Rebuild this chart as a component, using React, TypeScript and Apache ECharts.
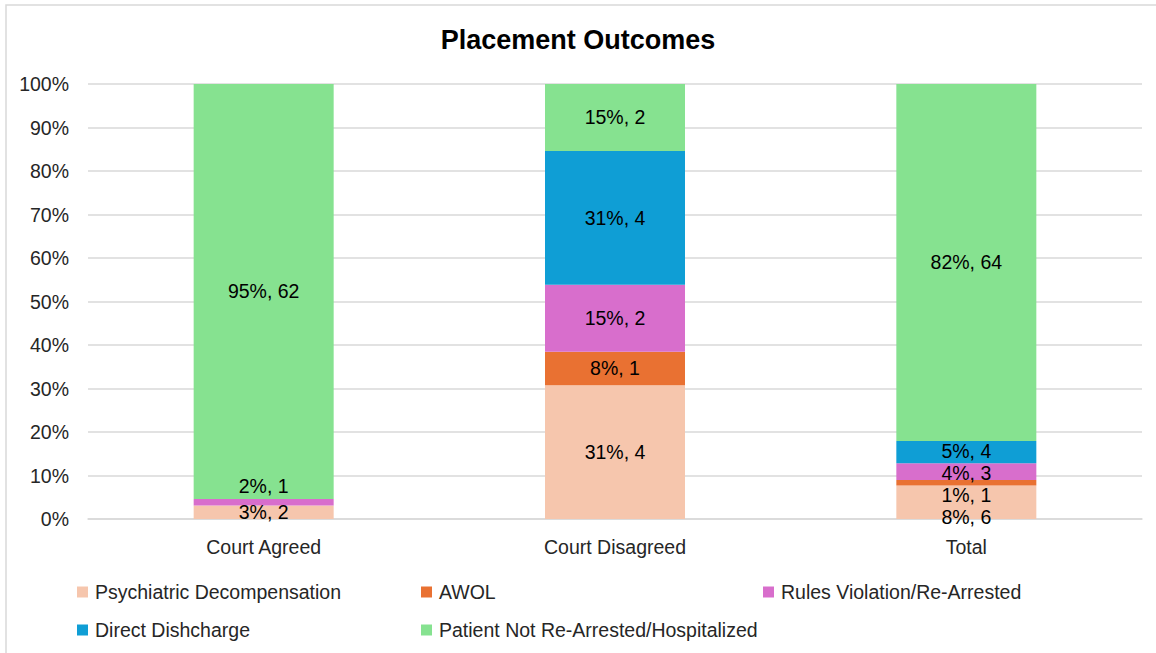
import React, { useEffect, useRef } from "react";
import * as echarts from "echarts";

const categories = ["Court Agreed", "Court Disagreed", "Total"];
const seriesNames = [
  "Psychiatric Decompensation",
  "AWOL",
  "Rules Violation/Re-Arrested",
  "Direct Dishcharge",
  "Patient Not Re-Arrested/Hospitalized",
];
const psychCounts = [2, 4, 6];
const awolCounts = [0, 1, 1];
const rulesCounts = [1, 2, 3];
const directCounts = [0, 4, 4];
const notArrestedCounts = [62, 2, 64];
const colors = ["#F6C6AD", "#E97132", "#D86ECC", "#0F9ED5", "#86E290"];
// label vertical nudges (style only), per series per category
const labelNudges = [
  [0, 0, 15],
  [0, 0, 12],
  [-16, 0, 1],
  [0, 0, -1],
  [0, 0, 0],
];

const FONT = "'Liberation Sans', Arial, sans-serif";
const FS = 19.5;

export default function App() {
  const ref = useRef<HTMLDivElement>(null);
  useEffect(() => {
    if (!ref.current) return;
    const chart = echarts.init(ref.current, undefined, { renderer: "svg" });
    const all = [psychCounts, awolCounts, rulesCounts, directCounts, notArrestedCounts];
    const totals = categories.map((_, i) => all.reduce((s, a) => s + a[i], 0));
    const series = all.map((counts, si) => ({
      name: seriesNames[si],
      type: "bar",
      stack: "total",
      barWidth: 140,
      itemStyle: { color: colors[si] },
      data: counts.map((c, ci) => ({
        value: c / totals[ci],
        count: c,
        label: {
          show: c > 0,
          offset: [0, labelNudges[si][ci]],
        },
      })),
      label: {
        position: "inside",
        color: "#000",
        fontSize: FS,
        lineHeight: 18,
        fontFamily: FONT,
        formatter: (p: any) => `${Math.round(p.value * 100)}%, ${p.data.count}`,
      },
    }));
    const legendPos = [
      { left: 77, top: 581 },
      { left: 421, top: 581 },
      { left: 763, top: 581 },
      { left: 77, top: 619 },
      { left: 421, top: 619 },
    ];
    const legends = seriesNames.map((n, i) => ({
      data: [n],
      left: legendPos[i].left,
      top: legendPos[i].top,
      padding: 0,
      itemWidth: 11,
      itemHeight: 11,
      icon: "rect",
      textStyle: {
        fontSize: FS,
        lineHeight: 22,
        color: "#262626",
        fontFamily: FONT,
        padding: [0, 0, 0, 2],
      },
    }));
    chart.setOption({
      animation: false,
      backgroundColor: "#fff",
      title: {
        text: "Placement Outcomes",
        left: "center",
        top: 21,
        textStyle: { fontSize: 27, fontWeight: "bold", color: "#000", fontFamily: FONT },
      },
      graphic: [
        {
          type: "rect",
          shape: { x: 6, y: 5, width: 1170, height: 670 },
          style: { fill: "none", stroke: "#d9d9d9", lineWidth: 1.5 },
          silent: true,
        },
      ],
      legend: legends,
      grid: { left: 88, right: 14, top: 84, bottom: 134, containLabel: false },
      xAxis: {
        type: "category",
        data: categories,
        axisTick: { show: false },
        axisLine: { lineStyle: { color: "#d9d9d9", width: 1.5 } },
        axisLabel: { fontSize: FS, color: "#262626", margin: 18, fontFamily: FONT },
      },
      yAxis: {
        type: "value",
        min: 0,
        max: 1,
        interval: 0.1,
        axisLabel: {
          fontSize: FS,
          color: "#262626",
          margin: 19,
          fontFamily: FONT,
          formatter: (v: number) => `${Math.round(v * 100)}%`,
        },
        splitLine: { lineStyle: { color: "#d9d9d9", width: 1.5 } },
        axisLine: { show: false },
        axisTick: { show: false },
      },
      series,
    });
    return () => chart.dispose();
  }, []);
  return (
    <div
      ref={ref}
      style={{ position: "fixed", left: 0, top: 0, width: 1156, height: 653 }}
    />
  );
}
